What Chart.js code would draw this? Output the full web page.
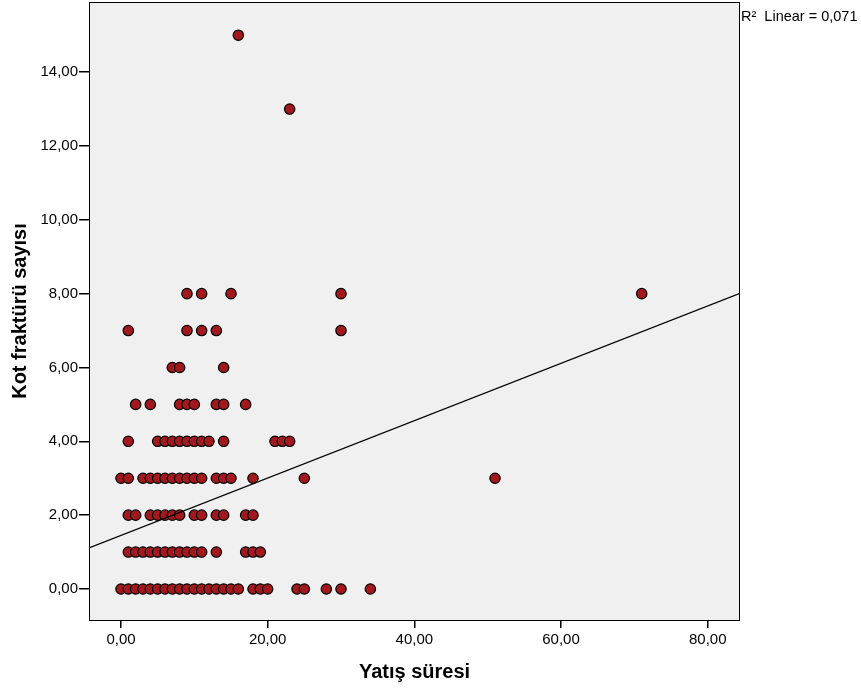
<!DOCTYPE html>
<html>
<head>
<meta charset="utf-8">
<script src="https://cdn.jsdelivr.net/npm/chart.js@4/dist/chart.umd.min.js"></script>
<style>
  html, body { margin: 0; padding: 0; background: #fff; }
  #wrap { width: 861px; height: 688px; }
</style>
</head>
<body>
<div id="wrap"><canvas id="c" width="861" height="688"></canvas></div>
<script>
/* Saçılım grafiği: yatış süresi vs kot fraktürü sayısı + doğrusal uyum çizgisi */

// yatış süresi values, grouped by kot fraktürü sayısı
const yatisAt0  = [0,1,2,3,4,5,6,7,8,9,10,11,12,13,14,15,16,18,19,20,24,25,28,30,34];
const yatisAt1  = [1,2,3,4,5,6,7,8,9,10,11,13,17,18,19];
const yatisAt2  = [1,2,4,5,6,7,8,10,11,13,14,17,18];
const yatisAt3  = [0,1,3,4,5,6,7,8,9,10,11,13,14,15,18,25,51];
const yatisAt4  = [1,5,6,7,8,9,10,11,12,14,21,22,23];
const yatisAt5  = [2,4,8,9,10,13,14,17];
const yatisAt6  = [7,8,14];
const yatisAt7  = [1,9,11,13,30];
const yatisAt8  = [9,11,15,30,71];
const yatisAt13 = [23];
const yatisAt15 = [16];

const groups = [
  [0, yatisAt0], [1, yatisAt1], [2, yatisAt2], [3, yatisAt3], [4, yatisAt4],
  [5, yatisAt5], [6, yatisAt6], [7, yatisAt7], [8, yatisAt8], [13, yatisAt13], [15, yatisAt15]
];

// fit line ends (read at the plot edges)
const fitX = [-4.36, 84.4];
const fitY = [1.11, 8.01];
const r2Label = 'R\u00B2  Linear = 0,071';

const xTicks = [0, 20, 40, 60, 80];
const yTicks = [0, 2, 4, 6, 8, 10, 12, 14];

const points = [];
groups.forEach(([y, xs]) => xs.forEach(x => points.push({ x, y })));

const fmtTR = v => v.toFixed(2).replace('.', ',');
const FONT = "'Liberation Sans', Arial, sans-serif";

const boxPlugin = {
  id: 'box',
  beforeDraw(chart) {
    const { ctx, chartArea: a } = chart;
    ctx.save();
    ctx.fillStyle = '#fff';
    ctx.fillRect(0, 0, chart.width, chart.height);
    ctx.fillStyle = '#f0f0f0';
    ctx.fillRect(a.left, a.top, a.right - a.left, a.bottom - a.top);
    ctx.restore();
  },
  afterDraw(chart) {
    const { ctx, chartArea: a } = chart;
    ctx.save();
    ctx.strokeStyle = '#000';
    ctx.lineWidth = 1;
    ctx.strokeRect(a.left + 0.5, a.top + 0.5, a.right - a.left - 1, a.bottom - a.top);
    ctx.fillStyle = '#000';
    ctx.font = '14.5px ' + FONT;
    ctx.textBaseline = 'middle';
    ctx.fillText(r2Label, a.right + 1, 17);
    ctx.restore();
  }
};

new Chart(document.getElementById('c'), {
  type: 'scatter',
  data: {
    datasets: [
      {
        type: 'line', data: fitX.map((x, i) => ({ x, y: fitY[i] })),
        borderColor: '#000', borderWidth: 1.3, pointRadius: 0, fill: false, order: 0
      },
      {
        data: points, order: 1,
        backgroundColor: '#a3181c', borderColor: '#000', borderWidth: 1.2,
        pointRadius: 5.2, pointHoverRadius: 5.2
      }
    ]
  },
  options: {
    responsive: false, animation: false,
    layout: { autoPadding: false, padding: { top: 2, right: 121, left: 0, bottom: 0 } },
    plugins: { legend: { display: false }, tooltip: { enabled: false } },
    scales: {
      x: {
        type: 'linear', min: -4.36, max: 84.4,
        afterBuildTicks: s => { s.ticks = xTicks.map(v => ({ value: v })); },
        afterFit: s => { s.height = 68; s.paddingLeft = 0; s.paddingRight = 0; },
        border: { display: false },
        grid: { drawOnChartArea: false, drawTicks: true, tickLength: 8, color: '#000', lineWidth: 1.5 },
        ticks: { color: '#000', font: { family: FONT, size: 15 }, padding: 3, callback: fmtTR, maxRotation: 0 },
        title: { display: true, text: 'Yatış süresi', color: '#000',
          font: { family: FONT, size: 20, weight: 'bold' }, padding: { top: 4, bottom: 4 } }
      },
      y: {
        type: 'linear', min: -0.84, max: 15.9,
        afterBuildTicks: s => { s.ticks = yTicks.map(v => ({ value: v })); },
        afterFit: s => { s.width = 89; s.paddingTop = 0; s.paddingBottom = 0; },
        border: { display: false },
        grid: { drawOnChartArea: false, drawTicks: true, tickLength: 10, color: '#000', lineWidth: 1.5 },
        ticks: { color: '#000', font: { family: FONT, size: 15 }, padding: 1, callback: fmtTR },
        title: { display: true, text: 'Kot fraktürü sayısı', color: '#000',
          font: { family: FONT, size: 20, weight: 'bold' }, padding: { top: 8, bottom: 0 } }
      }
    }
  },
  plugins: [boxPlugin]
});
</script>
</body>
</html>
